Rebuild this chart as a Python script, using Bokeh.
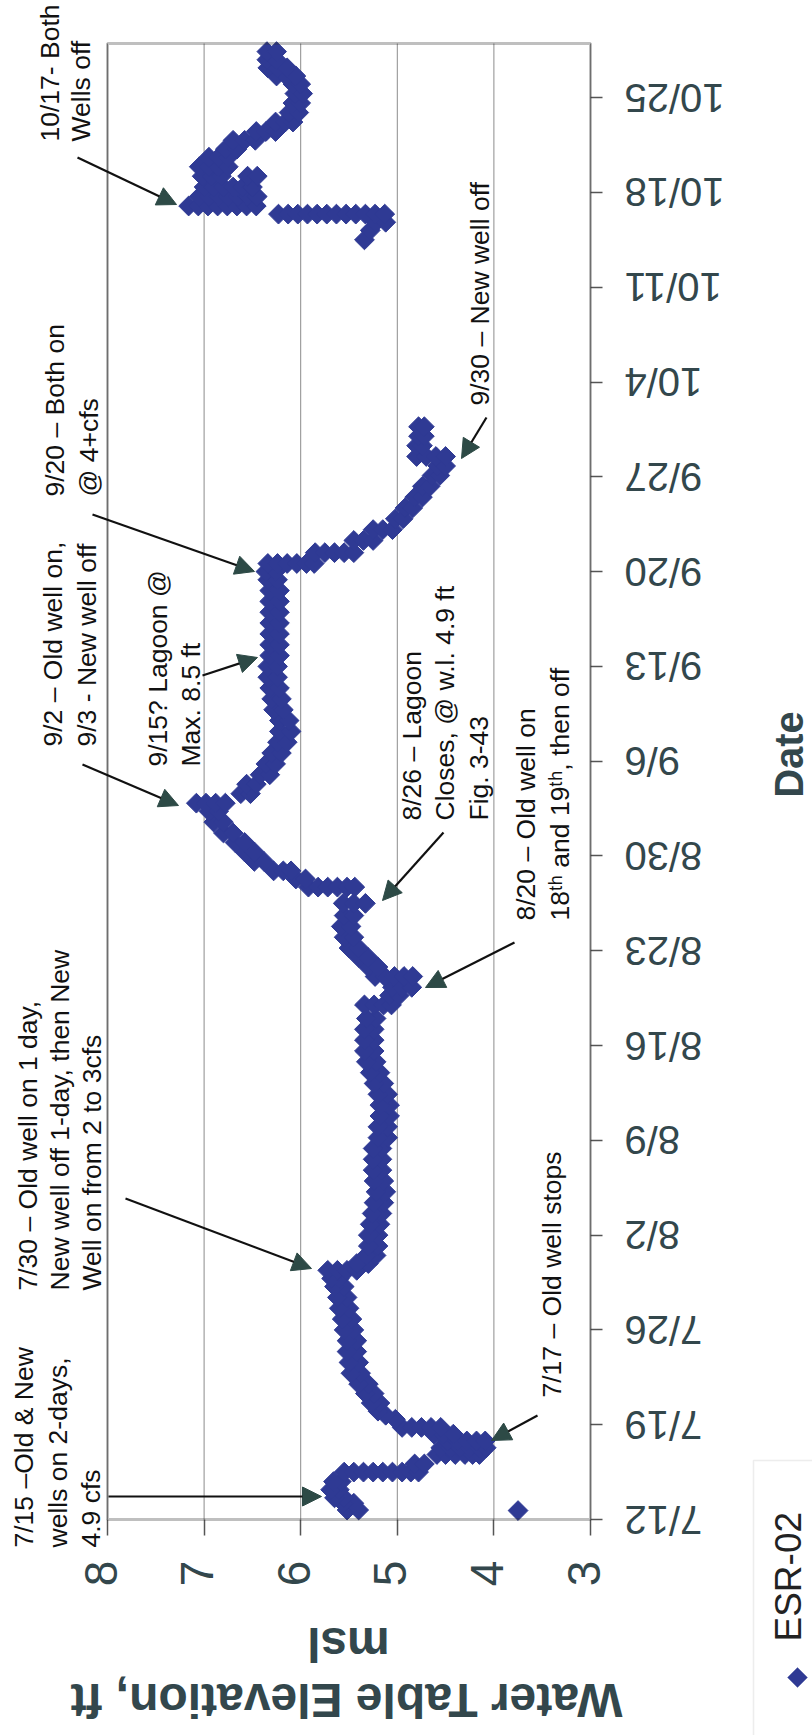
import math
from bokeh.plotting import figure
from bokeh.models import (Range1d, FixedTicker, Label, Arrow, NormalHead,
                          BoxAnnotation, PolyAnnotation, ColumnDataSource)
from bokeh.embed import file_html
from bokeh.resources import INLINE

# ---------------- data ----------------
series_name = "ESR-02"
date_ticks = ["7/12", "7/19", "7/26", "8/2", "8/9", "8/16", "8/23", "8/30",
              "9/6", "9/13", "9/20", "9/27", "10/4", "10/11", "10/18", "10/25"]
value_ticks = [8, 7, 6, 5, 4, 3]

# (days after 7/12, water-table elevation ft msl)
jul = [
    (0.7, 5.40), (0.7, 5.52), (1.2, 5.45), (1.2, 5.56), (0.66, 3.75),
    (1.6, 5.55), (1.6, 5.65), (2.2, 5.60), (2.2, 5.69), (2.8, 5.58), (2.8, 5.66),
    (3.5, 5.55), (3.5, 5.45), (3.5, 5.35), (3.5, 5.25), (3.5, 5.15), (3.5, 5.05),
    (3.5, 4.95), (3.5, 4.86), (3.5, 4.78),
    (4.1, 4.82), (4.1, 4.72),
    (4.8, 4.59), (4.8, 4.50), (4.8, 4.40), (4.8, 4.30), (4.8, 4.22), (4.8, 4.15),
    (5.3, 4.55), (5.3, 4.45), (5.3, 4.35), (5.3, 4.25), (5.3, 4.15), (5.3, 4.08),
    (5.8, 4.48), (5.8, 4.38), (5.8, 4.28), (5.8, 4.18), (5.8, 4.09),
    (6.3, 4.62), (6.3, 4.52), (6.3, 4.42),
    (6.8, 4.95), (6.8, 4.85), (6.8, 4.75), (6.8, 4.65), (6.8, 4.55),
    (7.4, 5.02), (7.7, 5.12), (8.0, 5.20),
    (8.6, 5.18), (8.6, 5.27), (9.3, 5.24), (9.3, 5.33), (10.0, 5.30), (10.0, 5.40),
    (10.8, 5.38), (10.8, 5.48), (11.6, 5.40), (11.6, 5.50), (12.4, 5.42), (12.4, 5.52),
    (13.2, 5.42), (13.2, 5.52), (14.0, 5.45), (14.0, 5.55), (14.8, 5.47), (14.8, 5.57),
    (15.6, 5.50), (15.6, 5.60), (16.4, 5.52), (16.4, 5.62), (17.2, 5.55), (17.2, 5.65),
    (17.8, 5.60), (17.8, 5.68),
    (18.4, 5.72), (18.4, 5.62), (18.4, 5.52), (18.4, 5.42),
    (18.9, 5.30), (18.9, 5.42), (19.5, 5.22), (19.5, 5.32),
]
aug = [
    (20.2, 5.20), (20.2, 5.30), (21.0, 5.20), (21.0, 5.30), (21.8, 5.18), (21.8, 5.28),
    (22.6, 5.16), (22.6, 5.26), (23.4, 5.14), (23.4, 5.24), (24.2, 5.12), (24.2, 5.22),
    (25.0, 5.14), (25.0, 5.24), (25.8, 5.16), (25.8, 5.25), (26.6, 5.16), (26.6, 5.25),
    (27.4, 5.16), (27.4, 5.25), (28.2, 5.10), (28.2, 5.20), (29.0, 5.10), (29.0, 5.20),
    (29.8, 5.08), (29.8, 5.18), (30.6, 5.08), (30.6, 5.18), (31.4, 5.10), (31.4, 5.20),
    (32.2, 5.14), (32.2, 5.24), (33.0, 5.18), (33.0, 5.28), (33.8, 5.22), (33.8, 5.32),
    (34.6, 5.24), (34.6, 5.34), (35.4, 5.24), (35.4, 5.34), (36.2, 5.24), (36.2, 5.34),
    (37.0, 5.22), (37.0, 5.32),
    (38.0, 5.34), (38.0, 5.24), (38.0, 5.14), (38.0, 5.06),
    (38.7, 5.08), (38.7, 4.98),
    (39.3, 5.05), (39.3, 4.95), (39.3, 4.85),
    (40.1, 5.23), (40.1, 5.13), (40.1, 5.03), (40.1, 4.93), (40.1, 4.84),
    (40.8, 5.30), (40.8, 5.20), (41.5, 5.40), (41.5, 5.30), (42.2, 5.50), (42.2, 5.40),
    (43.0, 5.55), (43.0, 5.45), (43.8, 5.58), (43.8, 5.48), (44.6, 5.55), (44.6, 5.45),
    (45.5, 5.56), (45.5, 5.45), (45.5, 5.33),
    (46.7, 5.92), (46.7, 5.82), (46.7, 5.72), (46.7, 5.62), (46.7, 5.52), (46.7, 5.44),
    (47.3, 6.05), (47.3, 5.95), (47.9, 6.28), (47.9, 6.18), (47.9, 6.10),
    (48.6, 6.48), (48.6, 6.38), (49.3, 6.58), (49.3, 6.48), (50.0, 6.68), (50.0, 6.58),
    (50.7, 6.80), (50.7, 6.70), (51.5, 6.90), (51.5, 6.80), (52.3, 6.95), (52.3, 6.85),
    (52.9, 7.08), (52.9, 6.98), (52.9, 6.88), (52.9, 6.78),
    (53.6, 6.62), (53.6, 6.52), (54.3, 6.56), (54.3, 6.46),
]
sep = [
    (55.0, 6.42), (55.0, 6.32), (55.8, 6.36), (55.8, 6.26), (56.6, 6.30), (56.6, 6.20),
    (57.4, 6.24), (57.4, 6.14), (58.2, 6.22), (58.2, 6.10), (59.0, 6.22), (59.0, 6.12),
    (59.8, 6.28), (59.8, 6.18), (60.6, 6.30), (60.6, 6.20), (61.4, 6.32), (61.4, 6.22),
    (62.2, 6.34), (62.2, 6.24), (63.0, 6.34), (63.0, 6.24), (63.8, 6.32), (63.8, 6.22),
    (64.6, 6.32), (64.6, 6.22), (65.4, 6.32), (65.4, 6.22), (66.2, 6.32), (66.2, 6.22),
    (67.0, 6.32), (67.0, 6.22), (67.8, 6.32), (67.8, 6.22), (68.6, 6.32), (68.6, 6.22),
    (69.4, 6.34), (69.4, 6.24), (70.0, 6.36), (70.0, 6.26),
    (70.6, 6.34), (70.6, 6.24), (70.6, 6.14), (70.6, 6.04), (70.6, 5.94), (70.6, 5.86),
    (71.4, 5.85), (71.4, 5.75), (71.4, 5.65), (71.4, 5.55), (71.4, 5.45),
    (72.3, 5.45), (72.3, 5.35), (72.3, 5.25),
    (73.1, 5.25), (73.1, 5.15), (73.1, 5.05),
    (73.9, 5.02), (73.9, 4.94), (74.7, 4.92), (74.7, 4.84), (75.5, 4.82), (75.5, 4.74),
    (76.3, 4.74), (76.3, 4.66), (77.1, 4.64), (77.1, 4.56), (77.8, 4.58), (77.8, 4.50),
    (78.5, 4.80), (78.5, 4.70), (78.5, 4.60), (78.5, 4.50),
    (79.3, 4.80), (79.3, 4.74), (80.0, 4.78), (80.0, 4.72), (80.7, 4.78), (80.7, 4.72),
]
octo = [
    (94.5, 5.34), (95.2, 5.28), (95.8, 5.22), (95.8, 5.12),
    (96.4, 6.23), (96.4, 6.13), (96.4, 6.03), (96.4, 5.93), (96.4, 5.83), (96.4, 5.73),
    (96.4, 5.63), (96.4, 5.53), (96.4, 5.43), (96.4, 5.33), (96.4, 5.23), (96.4, 5.13),
    (97.0, 7.16), (97.0, 7.06), (97.0, 6.96), (97.0, 6.86), (97.0, 6.76), (97.0, 6.66),
    (97.0, 6.56), (97.0, 6.46),
    (97.7, 7.05), (97.7, 6.95), (97.7, 6.85), (97.7, 6.75), (97.7, 6.65), (97.7, 6.55),
    (97.7, 6.45),
    (98.4, 7.00), (98.4, 6.90), (98.4, 6.80), (98.4, 6.70), (98.4, 6.60), (98.4, 6.50),
    (99.2, 7.02), (99.2, 6.92), (99.2, 6.82), (99.2, 6.55), (99.2, 6.45),
    (99.9, 7.05), (99.9, 6.95), (99.9, 6.85), (99.9, 6.75),
    (100.6, 6.95), (100.6, 6.85), (100.6, 6.75),
    (101.2, 6.78), (101.2, 6.66),
    (101.85, 6.70), (101.85, 6.58), (101.85, 6.47),
    (102.5, 6.46), (102.5, 6.36), (102.5, 6.26),
    (103.2, 6.26), (103.2, 6.16), (103.2, 6.08),
    (103.9, 6.12), (103.9, 6.02),
    (104.6, 6.08), (104.6, 6.00), (105.3, 6.06), (105.3, 5.98), (106.0, 6.08), (106.0, 6.00),
    (106.6, 6.25), (106.6, 6.15), (106.6, 6.05),
    (107.2, 6.34), (107.2, 6.24), (107.2, 6.14),
    (107.8, 6.35), (107.8, 6.25), (108.4, 6.35), (108.4, 6.25),
]

# annotations: (lines, line-centre x on page, start (bottom) y on page); arrows in page px
notes = [
    (["7/15 \u2013Old & New", "wells on 2-days,", "4.9 cfs"], [23, 57, 90], 1547),
    (["7/30 \u2013 Old well on 1 day,", "New well off 1-day, then New",
      "Well on from 2 to 3cfs"], [27, 59, 91], 1290),
    (["7/17 \u2013 Old well stops"], [551], 1397),
    (["8/20 \u2013 Old well on", "18\u1d57\u02b0 and 19\u1d57\u02b0, then off"], [525, 559], 920),
    (["8/26 \u2013 Lagoon", "Closes, @ w.l. 4.9 ft", "Fig. 3-43"], [411, 444, 478], 820),
    (["9/2 \u2013 Old well on,", "9/3 - New well off"], [52, 86], 746),
    (["9/15? Lagoon @", "Max. 8.5 ft"], [157, 190], 766),
    (["9/20 \u2013 Both on", "@ 4+cfs"], [54, 88], 496),
    (["9/30 \u2013 New well off"], [479], 405),
    (["10/17- Both", "Wells off"], [49, 80], 141),
]
arrows = [
    ((108, 1496), (321, 1496)),
    ((537, 1415), (491, 1440)),
    ((125, 1198), (311, 1268)),
    ((514, 942), (425, 987)),
    ((443, 832), (382, 900)),
    ((82, 764), (178, 805)),
    ((202, 675), (257, 657)),
    ((92, 514), (254, 571)),
    ((486, 417), (461, 458)),
    ((77, 157), (176, 204)),
]

# ---------------- layout ----------------
W, H = 812, 1735
OX, OY = 0, 0                                  # canvas origin on the page
FL, FR, FT, FB = 107, 590, 43, 1519           # plot box on the page
X_HI, X_LO = 8, 3
D_LO, D_HI = 0, 109
PX_PER_UNIT = (FR - FL) / (X_HI - X_LO)


def dx(xp):
    return X_HI - (xp - FL) / PX_PER_UNIT


def dy(yp):
    return D_LO + (FB - yp) / (FB - FT) * (D_HI - D_LO)


BLUE = "#2f3a94"
SLATE = "#33474c"
HEAD = "#2d4a46"
SANS = "Liberation Sans"

p = figure(width=W, height=H, output_backend="svg", toolbar_location=None, title=None,
           x_range=Range1d(dx(OX), dx(OX + W)), y_range=Range1d(dy(OY + H), dy(OY)),
           x_axis_location="below", y_axis_location="right",
           min_border_left=0, min_border_right=0, min_border_top=0, min_border_bottom=0)
p.background_fill_color = "white"
p.border_fill_color = "white"
p.outline_line_color = None
p.xgrid.visible = False
p.ygrid.visible = False

# value axis on the bottom edge of the plot box (labels drawn rotated below)
xa = p.xaxis[0]
xa.fixed_location = D_LO
xa.bounds = (X_LO, X_HI)
xa.ticker = FixedTicker(ticks=value_ticks)
xa.major_label_text_color = None
xa.major_tick_out = 16
xa.major_tick_in = 0
xa.major_tick_line_color = "#555555"
xa.major_tick_line_width = 1.5
xa.minor_tick_line_color = None
xa.axis_line_color = None

# date axis on the right edge of the plot box (labels drawn upside down below)
ya = p.yaxis[0]
ya.fixed_location = X_LO
ya.bounds = (D_LO, D_HI)
ya.ticker = FixedTicker(ticks=[7 * i for i in range(len(date_ticks))])
ya.major_label_overrides = {7 * i: lab for i, lab in enumerate(date_ticks)}
ya.major_label_text_color = None
ya.major_tick_out = 12
ya.major_tick_in = 0
ya.major_tick_line_color = "#555555"
ya.major_tick_line_width = 1.5
ya.minor_tick_line_color = None
ya.axis_line_color = None

# vertical gridlines, only inside the plot box
p.segment(x0=value_ticks, x1=value_ticks, y0=[D_LO] * len(value_ticks),
          y1=[D_HI] * len(value_ticks), line_color="#8c8c8c", line_width=1,
          level="underlay")

pts = jul + aug + sep + octo
src = ColumnDataSource(dict(day=[d for d, v in pts], elev=[v for d, v in pts]))
p.scatter(x="elev", y="day", source=src, marker="square", angle=math.pi / 4,
          size=14, fill_color=BLUE, line_color=BLUE)

# plot box
p.add_layout(BoxAnnotation(left=X_HI, right=X_LO, bottom=D_LO, top=D_HI,
                           fill_alpha=0, line_color="#2a2a2a", line_width=3))

# tick labels, rotated like the rest of the page
for v in value_ticks:
    p.add_layout(Label(x=v + 7 / PX_PER_UNIT, y=dy(1573), text=str(v), angle=math.pi / 2,
                       text_align="center", text_baseline="middle",
                       text_font=SANS, text_font_size="46px", text_color=SLATE))
for i, lab in enumerate(date_ticks):
    p.add_layout(Label(x=dx(624), y=7 * i, text=lab, angle=math.pi,
                       text_align="right", text_baseline="middle",
                       text_font=SANS, text_font_size="40px", text_color=SLATE))

# notes and arrows
for lines, xs, yb in notes:
    for t, xc in zip(lines, xs):
        p.add_layout(Label(x=dx(xc), y=dy(yb), text=t, angle=math.pi / 2,
                           text_align="left", text_baseline="middle",
                           text_font=SANS, text_font_size="26.5px",
                           text_color="#111111"))
for (x0, y0), (x1, y1) in arrows:
    p.add_layout(Arrow(end=NormalHead(size=19, fill_color=HEAD, line_color=HEAD),
                       x_start=dx(x0), y_start=dy(y0), x_end=dx(x1), y_end=dy(y1),
                       line_color="#111111", line_width=2.2))

# axis titles
p.add_layout(Label(x=dx(788), y=dy(754), text="Date", angle=math.pi / 2,
                   text_align="center", text_baseline="middle",
                   text_font=SANS, text_font_style="bold", text_font_size="40px",
                   text_color=SLATE))
p.add_layout(Label(x=dx(346), y=dy(1700), text="Water Table Elevation, ft", angle=math.pi,
                   text_align="center", text_baseline="middle",
                   text_font=SANS, text_font_style="bold", text_font_size="48px",
                   text_color=SLATE))
p.add_layout(Label(x=dx(348), y=dy(1644), text="msl", angle=math.pi,
                   text_align="center", text_baseline="middle",
                   text_font=SANS, text_font_style="bold", text_font_size="48px",
                   text_color=SLATE))

# legend (rotated like the rest of the page)
p.add_layout(PolyAnnotation(xs=[dx(753), dx(850), dx(850), dx(753)],
                            ys=[dy(1460), dy(1460), dy(1770), dy(1770)],
                            fill_color="white", fill_alpha=1.0,
                            line_color="#c4c4c4", line_width=1.5))
p.add_layout(PolyAnnotation(xs=[dx(787), dx(797), dx(807), dx(797)],
                            ys=[dy(1677), dy(1667), dy(1677), dy(1687)],
                            fill_color=BLUE, fill_alpha=1.0, line_color=BLUE))
p.add_layout(Label(x=dx(788), y=dy(1641), text=series_name, angle=math.pi / 2,
                   text_align="left", text_baseline="middle",
                   text_font=SANS, text_font_size="37px", text_color="#222222"))

open("out.html", "w").write(file_html(p, INLINE))
